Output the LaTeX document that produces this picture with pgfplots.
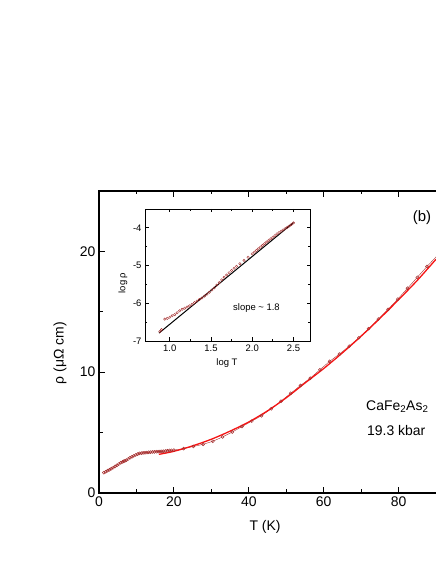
\documentclass[border=0pt]{standalone}
\usepackage{fontspec}
\setmainfont{Liberation Sans}
\usepackage{pgfplots}
\pgfplotsset{compat=1.18}
\definecolor{datred}{RGB}{165,45,45}
\definecolor{fitred}{RGB}{245,20,20}

\begin{document}
\begin{tikzpicture}
\useasboundingbox (0bp,0bp) rectangle (436bp,564bp);
\begin{axis}[
  name=main,
  at={(99bp,71bp)}, anchor=south west,
  scale only axis, width=337bp, height=302bp,
  xmin=0, xmax=90, ymin=0, ymax=25,
  xtick={0,20,40,60,80}, ytick={0,10,20},
  minor x tick num=1, minor y tick num=1,
  tick align=inside, xtick pos=both, ytick pos=left,
  major tick length=6bp, minor tick length=3.5bp,
  every tick/.style={black, line width=1pt},
  axis line style={draw=none},
  ticklabel style={font=\fontsize{14}{16}\selectfont},
  /pgf/number format/assume math mode=true,
]
% measured rho(T)
\addplot[datred, line width=0.4pt, mark=o, mark size=1.5bp, mark options={line width=0.5pt}] coordinates {
(1.3,1.68)(1.8,1.75)(2.3,1.85)(2.8,1.93)(3.3,2.02)(3.8,2.1)(4.3,2.2)(4.8,2.3)
(5.3,2.4)(5.8,2.5)(6.3,2.58)(6.6,2.62)(6.9,2.66)(7.3,2.72)(7.8,2.82)(8.3,2.92)
(8.8,3.0)(9.3,3.08)(9.8,3.15)(10.3,3.22)(10.8,3.28)(11.3,3.3)(11.8,3.32)(12.3,3.33)
(12.8,3.35)(13.3,3.37)(13.8,3.38)(14.3,3.4)(14.8,3.4)(15.3,3.42)(15.8,3.42)(16.3,3.43)
(16.8,3.45)(17.3,3.46)(17.8,3.48)(18.3,3.5)(18.8,3.52)(19.3,3.53)(20,3.55)
(22.6,3.68)(25.2,3.85)(27.8,4.03)(30.4,4.28)(33,4.64)(35.6,5.05)(38.2,5.5)
(40.8,5.95)(43.4,6.4)(46,6.98)(48.6,7.6)(51.2,8.25)(53.8,8.9)(56.4,9.5)(59,10.2)
(61.6,10.9)(64.2,11.5)(66.8,12.15)(69.4,12.85)(72,13.6)(74.6,14.4)(77.2,15.2)
(79.8,16.05)(82.4,16.95)(85,17.85)(87.6,18.75)(90.2,19.6)
};
% fit
\addplot[fitred, line width=1.3pt, smooth] coordinates {
(16,3.2)(20,3.45)(25,3.9)(30,4.45)(35,5.12)(40,5.88)(45,6.8)(50,7.88)(55,9.1)
(60,10.3)(65,11.6)(70,12.98)(75,14.45)(80,16.0)(85,17.6)(90,19.35)
};
\end{axis}
\draw[line width=1.3pt] (main.south east) -- (main.south west) -- (main.north west) -- (main.north east);

\node[font=\fontsize{14}{16}\selectfont, rotate=90] at (60bp,211bp) {ρ (μΩ cm)};
\node[font=\fontsize{14}{16}\selectfont] at (265bp,37bp) {T (K)};
\node[font=\fontsize{15}{17}\selectfont] at (422bp,346bp) {(b)};
\node[font=\fontsize{14}{16}\selectfont, anchor=west, inner sep=0pt] at (366bp,157bp) {CaFe\textsubscript{2}As\textsubscript{2}};
\node[font=\fontsize{14}{16}\selectfont, anchor=west, inner sep=0pt] at (367bp,133bp) {19.3 kbar};

\begin{axis}[
  name=inset,
  at={(145bp,223bp)}, anchor=south west,
  scale only axis, width=165bp, height=132bp,
  xmin=0.7, xmax=2.7, ymin=-7, ymax=-3.5,
  xtick={1,1.5,2,2.5}, ytick={-7,-6,-5,-4},
  minor x tick num=1, minor y tick num=1,
  tick align=inside, xtick pos=both, ytick pos=both,
  major tick length=3.5bp, minor tick length=2bp,
  axis line style={line width=0.9pt},
  every tick/.style={black, line width=0.8pt},
  axis background/.style={fill=white},
  ticklabel style={font=\fontsize{9.5}{11}\selectfont},
  xticklabel style={/pgf/number format/.cd, fixed, fixed zerofill, precision=1},
  /pgf/number format/assume math mode=true,
]
\addplot[datred, only marks, mark=o, mark size=1.2bp, mark options={line width=0.4pt}] coordinates {
(0.88,-6.75)(0.9,-6.7)(0.94,-6.42)(0.97,-6.4)(1.0,-6.37)(1.03,-6.33)(1.06,-6.3)
(1.09,-6.25)(1.12,-6.2)(1.15,-6.16)(1.18,-6.13)(1.21,-6.1)(1.24,-6.07)(1.27,-6.03)
(1.3,-5.98)(1.33,-5.94)(1.36,-5.9)(1.39,-5.86)(1.42,-5.81)(1.45,-5.76)(1.48,-5.71)
(1.51,-5.65)(1.54,-5.59)(1.57,-5.52)(1.6,-5.45)(1.63,-5.38)(1.66,-5.31)(1.69,-5.25)
(1.72,-5.19)(1.75,-5.13)(1.78,-5.07)(1.81,-5.02)(1.85,-4.95)(1.9,-4.86)(1.95,-4.78)
(2.0,-4.69)(2.025,-4.645)(2.05,-4.6)(2.075,-4.555)(2.1,-4.51)(2.125,-4.465)(2.15,-4.42)
(2.175,-4.375)(2.2,-4.33)(2.225,-4.29)(2.25,-4.25)(2.275,-4.205)(2.3,-4.16)
(2.325,-4.125)(2.35,-4.09)(2.375,-4.055)(2.4,-4.02)(2.425,-3.985)(2.45,-3.95)
(2.475,-3.91)(2.5,-3.87)
};
\addplot[black, line width=1pt] coordinates {(0.87,-6.79)(2.5,-3.86)};
\end{axis}
\node[font=\fontsize{9.5}{11}\selectfont] at (227bp,201bp) {log T};
\node[font=\fontsize{9.5}{11}\selectfont, rotate=90] at (123bp,281bp) {log ρ};
\node[font=\fontsize{9.5}{11}\selectfont, anchor=west, inner sep=0pt] at (233bp,256bp) {slope \textasciitilde{} 1.8};
\end{tikzpicture}
\end{document}
